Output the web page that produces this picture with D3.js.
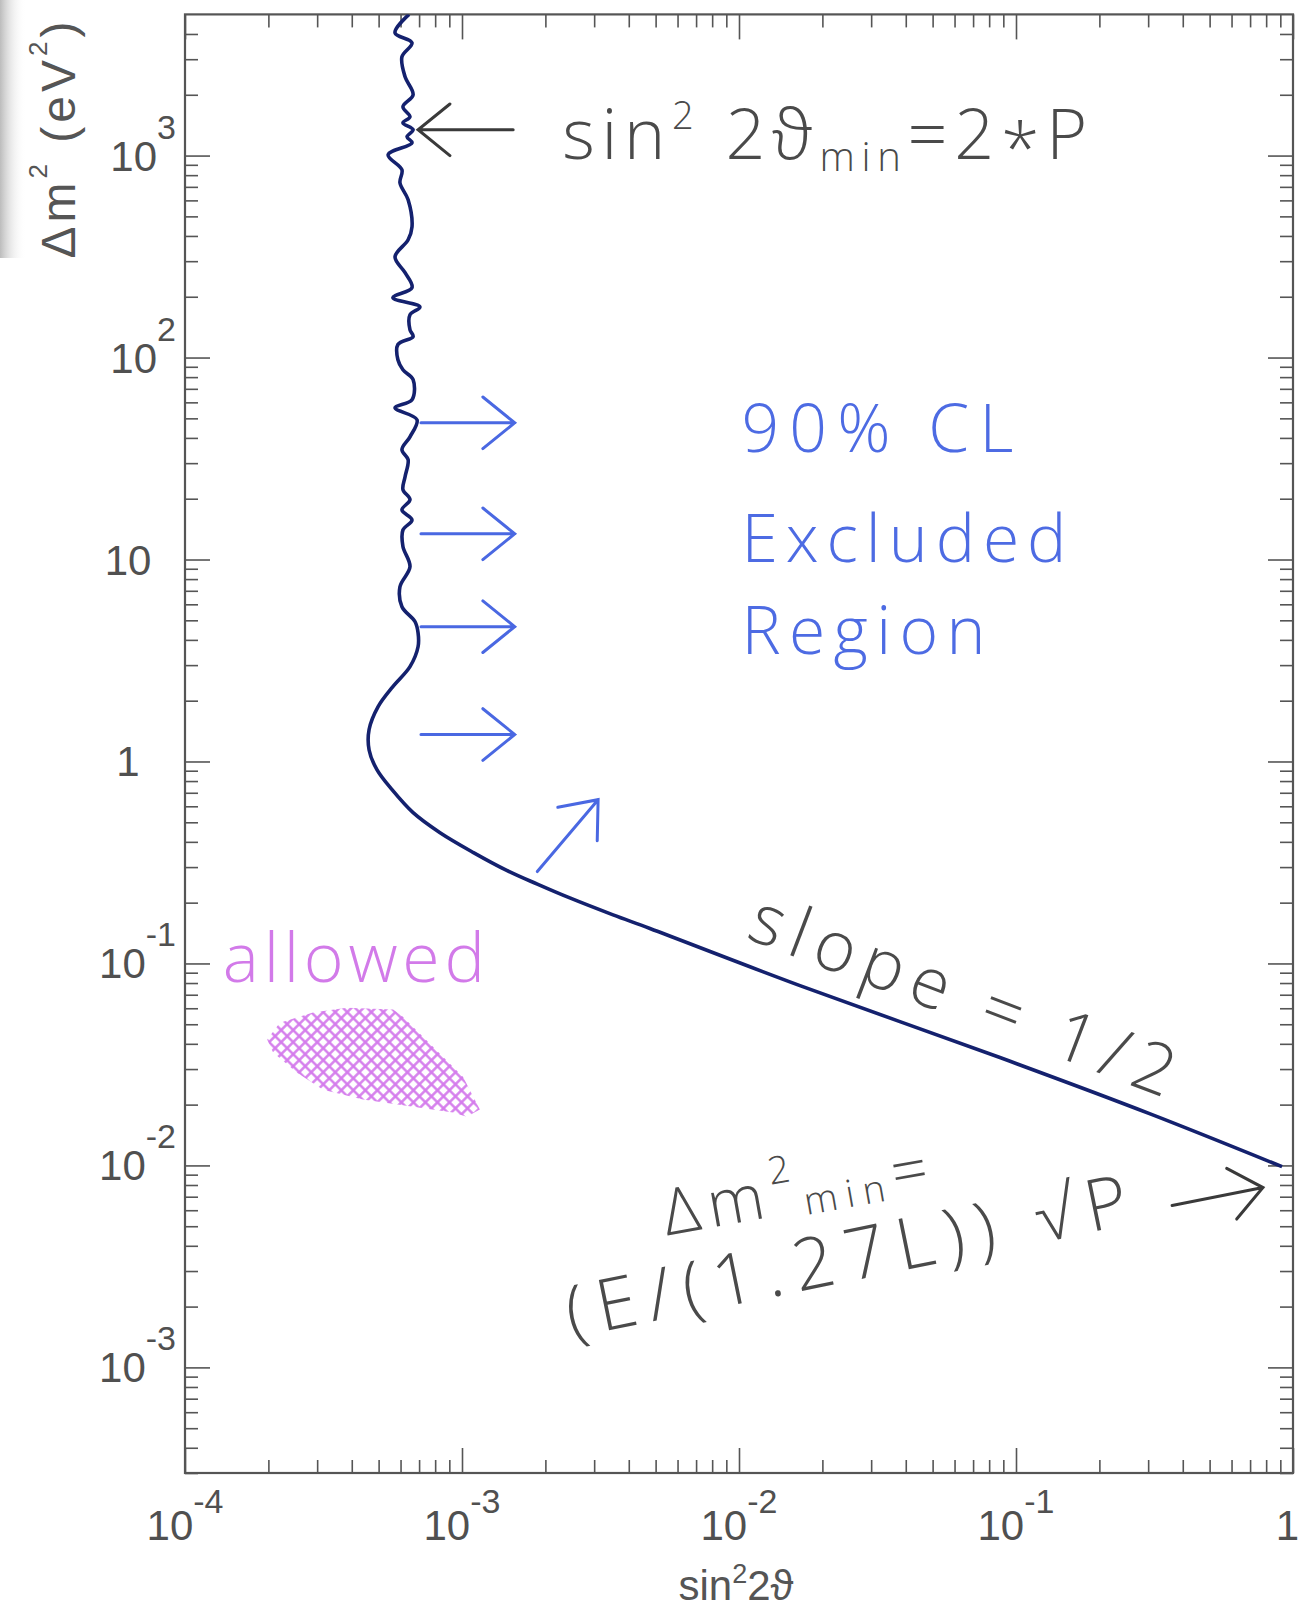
<!DOCTYPE html>
<html>
<head>
<meta charset="utf-8">
<script src="https://cdn.jsdelivr.net/npm/d3@7"></script>
<style>
  html, body { margin: 0; padding: 0; background: #fff; }
  svg { display: block; }
  .tick-label { font-family: "Liberation Sans Narrow", "Liberation Sans", Arial, sans-serif; fill: #505050; }
  .axis-title { font-family: "Liberation Sans", Arial, sans-serif; fill: #555; }
  .note { font-family: "Open Sans", "Liberation Sans", sans-serif; font-weight: 300; }
</style>
</head>
<body>
<div id="chart"></div>
<script>
// exclusion contour (sin^2 2theta, delta m^2) top to bottom
const curveSin2 = [6.44e-4, 5.73e-4, 6.60e-4, 6.07e-4, 6.23e-4, 6.66e-4, 6.12e-4, 6.49e-4, 6.12e-4, 6.66e-4,
  6.33e-4, 6.60e-4, 5.41e-4, 6.07e-4, 5.97e-4, 6.39e-4, 6.60e-4, 6.39e-4, 5.73e-4, 6.23e-4,
  6.60e-4, 5.63e-4, 7.05e-4, 6.49e-4, 6.49e-4, 6.66e-4, 5.87e-4, 5.87e-4, 6.12e-4, 6.66e-4,
  6.60e-4, 5.73e-4, 6.88e-4, 6.49e-4, 6.07e-4, 6.39e-4, 6.23e-4, 6.12e-4, 6.49e-4, 6.07e-4,
  6.60e-4, 6.12e-4, 6.12e-4, 6.49e-4, 5.97e-4, 6.07e-4, 6.77e-4, 6.94e-4, 6.94e-4, 6.49e-4,
  5.63e-4, 4.98e-4, 4.62e-4, 4.62e-4, 4.93e-4, 5.59e-4, 6.66e-4, 8.33e-4, 1.10e-3, 1.45e-3,
  1.87e-3, 2.45e-3, 3.51e-3, 4.77e-3, 1.66e-2, 8.75e-2, 0.305, 0.913];
const curveDm2 = [5000, 4054, 3617, 3084, 2455, 2000, 1744, 1556, 1453, 1342,
  1239, 1157, 1009, 850, 733, 604, 444, 383, 315, 263,
  222, 198, 178, 163, 137, 127, 116, 97.5, 87.0, 77.7,
  61.8, 56.4, 49.2, 40.5, 35.0, 31.2, 25.7, 22.2, 19.8, 17.6,
  15.7, 14.0, 11.6, 9.21, 7.33, 5.84, 4.92, 4.34, 3.70, 2.95,
  2.35, 1.87, 1.44, 1.14, 0.911, 0.725, 0.558, 0.444, 0.354, 0.289,
  0.247, 0.211, 0.174, 0.149, 0.0777, 0.0342, 0.0180, 0.00986];

// outline of the hatched "allowed" island
const allowedSin2 = [1.98e-4, 2.20e-4, 2.90e-4, 3.84e-4, 5.64e-4, 6.12e-4, 7.86e-4, 1.008e-3,
  1.16e-3, 1.04e-3, 9.28e-4, 6.66e-4, 4.39e-4, 3.15e-4, 2.54e-4, 2.08e-4];
const allowedDm2 = [0.0420, 0.0509, 0.0571, 0.0604, 0.0591, 0.0545, 0.0387, 0.0275,
  0.0189, 0.0174, 0.0183, 0.0195, 0.0212, 0.0237, 0.0288, 0.0362];

// axis ticks and labels
const xTickValues = [1e-4, 1e-3, 1e-2, 1e-1, 1];
const xTickBases = ["10", "10", "10", "10", "1"];
const xTickExps = ["-4", "-3", "-2", "-1", ""];
const yTickValues = [1e-3, 1e-2, 1e-1, 1, 10, 100, 1000];
const yTickBases = ["10", "10", "10", "1", "10", "10", "10"];
const yTickExps = ["-3", "-2", "-1", "", "", "2", "3"];

// heights of the blue "excluded" arrows
const arrowDm2 = [47.5, 13.4, 4.65, 1.36];

function drawChart(divId) {
  const W = 1299, H = 1608;
  const margin = { top: 14.4, right: 6, bottom: 135, left: 185 };
  const width = W - margin.left - margin.right;
  const height = H - margin.top - margin.bottom;

  const svg = d3.select(`#${divId}`)
    .append("svg")
      .attr("width", W)
      .attr("height", H);

  const defs = svg.append("defs");

  // scanned-page shadow on the left edge
  const shade = defs.append("linearGradient").attr("id", "shade")
    .attr("x1", 0).attr("x2", 1).attr("y1", 0).attr("y2", 0);
  shade.append("stop").attr("offset", 0).attr("stop-color", "#bcbcbc");
  shade.append("stop").attr("offset", 0.4).attr("stop-color", "#dedede").attr("stop-opacity", 0.7);
  shade.append("stop").attr("offset", 1).attr("stop-color", "#fff").attr("stop-opacity", 0);
  svg.append("rect").attr("x", 0).attr("y", 0).attr("width", 26).attr("height", 258)
    .attr("fill", "url(#shade)");

  const pat = defs.append("pattern").attr("id", "hatch")
    .attr("patternUnits", "userSpaceOnUse")
    .attr("width", 8.5).attr("height", 8.5)
    .attr("patternTransform", "rotate(45)");
  pat.append("path").attr("d", "M0,4.25H8.5M4.25,0V8.5")
    .attr("stroke", "#d47bec").attr("stroke-width", 2.4);

  defs.append("clipPath").attr("id", "plotclip")
    .append("rect").attr("width", width).attr("height", height);

  const g = svg.append("g")
    .attr("transform", `translate(${margin.left},${margin.top})`);

  const x = d3.scaleLog().domain([1e-4, 1]).range([0, width]);
  const y = d3.scaleLog().domain([3e-4, 5e3]).range([height, 0]);

  // minor ticks 2..9 in each decade
  const xMinor = [], yMinor = [];
  for (let d = -4; d < 0; d++) for (let k = 2; k <= 9; k++) xMinor.push(k * Math.pow(10, d));
  for (let d = -4; d <= 3; d++) for (let k = 2; k <= 9; k++) {
    const v = k * Math.pow(10, d);
    if (v > 3e-4 && v < 5e3) yMinor.push(v);
  }

  function clean(sel) {
    sel.select(".domain").remove();
    sel.selectAll(".tick line").attr("stroke", "#555").attr("stroke-width", 1.6);
    sel.selectAll(".tick text").remove();
  }

  const sides = [
    [d3.axisBottom, x, `translate(0,${height})`],
    [d3.axisTop, x, "translate(0,0)"],
    [d3.axisLeft, y, "translate(0,0)"],
    [d3.axisRight, y, `translate(${width},0)`]
  ];
  sides.forEach(([ax, sc, tr]) => {
    const majors = sc === x ? xTickValues : yTickValues;
    const minors = sc === x ? xMinor : yMinor;
    g.append("g").attr("transform", tr)
      .call(ax(sc).tickValues(majors).tickSize(-25).tickFormat(""))
      .call(clean);
    g.append("g").attr("transform", tr)
      .call(ax(sc).tickValues(minors).tickSize(-13).tickFormat(""))
      .call(clean);
  });

  // frame
  g.append("rect")
    .attr("width", width).attr("height", height)
    .attr("fill", "none").attr("stroke", "#555").attr("stroke-width", 2.2);

  // x tick labels (the last one sits on the page edge)
  xTickValues.forEach((v, i) => {
    const last = i === xTickValues.length - 1;
    const t = g.append("text").attr("class", "tick-label")
      .attr("x", last ? width + margin.right : x(v)).attr("y", height + 67)
      .attr("text-anchor", last ? "end" : "middle")
      .attr("font-size", 42);
    t.append("tspan").text(xTickBases[i]);
    if (xTickExps[i]) t.append("tspan").attr("dy", -27).attr("font-size", 34).text(xTickExps[i]);
  });

  // y tick labels
  yTickValues.forEach((v, i) => {
    const hasExp = yTickExps[i] !== "";
    const t = g.append("text").attr("class", "tick-label")
      .attr("x", hasExp ? -9 : -57).attr("y", y(v) + 15)
      .attr("text-anchor", hasExp ? "end" : "middle")
      .attr("font-size", 42);
    t.append("tspan").text(yTickBases[i]);
    if (hasExp) t.append("tspan").attr("dy", -32).attr("font-size", 34).text(yTickExps[i]);
  });

  // axis titles
  const xt = g.append("text").attr("class", "axis-title")
    .attr("x", 551).attr("y", height + 127)
    .attr("text-anchor", "middle").attr("font-size", 42);
  xt.append("tspan").text("sin");
  xt.append("tspan").attr("dy", -17).attr("font-size", 27).text("2");
  xt.append("tspan").attr("dy", 17).text("2ϑ");

  const yt = g.append("text").attr("class", "axis-title")
    .attr("transform", `translate(${75 - margin.left},${138 - margin.top}) rotate(-90)`)
    .attr("text-anchor", "middle").attr("font-size", 48)
    .attr("letter-spacing", 4);
  yt.append("tspan").text("Δm");
  yt.append("tspan").attr("dy", -28).attr("font-size", 26).text("2");
  yt.append("tspan").attr("dy", 28).text(" (eV");
  yt.append("tspan").attr("dy", -28).attr("font-size", 26).text("2");
  yt.append("tspan").attr("dy", 28).text(")");

  const plot = g.append("g").attr("clip-path", "url(#plotclip)");

  // allowed island
  const island = d3.zip(allowedSin2, allowedDm2);
  plot.append("path")
    .datum(island)
    .attr("d", d3.line().x(d => x(d[0])).y(d => y(d[1])).curve(d3.curveLinearClosed))
    .attr("fill", "url(#hatch)");

  // exclusion contour
  const pts = d3.zip(curveSin2, curveDm2);
  plot.append("path")
    .datum(pts)
    .attr("fill", "none")
    .attr("stroke", "#14216e")
    .attr("stroke-width", 3.6)
    .attr("stroke-linejoin", "round")
    .attr("d", d3.line().x(d => x(d[0])).y(d => y(d[1])).curve(d3.curveCatmullRom.alpha(0.5)));

  // open chevron arrows
  function arrow(x0, y0, x1, y1, color) {
    const ang = Math.atan2(y1 - y0, x1 - x0);
    const L = 41, a = 39 * Math.PI / 180;
    const p1 = [x1 - L * Math.cos(ang - a), y1 - L * Math.sin(ang - a)];
    const p2 = [x1 - L * Math.cos(ang + a), y1 - L * Math.sin(ang + a)];
    g.append("path")
      .attr("d", `M${x0},${y0}L${x1},${y1}M${p1}L${x1},${y1}L${p2}`)
      .attr("fill", "none")
      .attr("stroke", color)
      .attr("stroke-width", 3)
      .attr("stroke-linecap", "round")
      .attr("stroke-linejoin", "miter");
  }

  const blue = "#4a68e2", grey = "#3a3a3a";
  arrowDm2.forEach(v => arrow(x(7.11e-4), y(v), x(1.55e-3), y(v), blue));
  arrow(x(1.87e-3), y(0.285), x(3.10e-3), y(0.647), blue);
  arrow(x(1.53e-3), y(1342), x(6.94e-4), y(1342), grey);
  arrow(x(0.366), y(6.33e-3), x(0.779), y(7.77e-3), grey);

  // sin^2 2theta_min = 2*P
  const s1 = g.append("text").attr("class", "note")
    .attr("x", x(2.30e-3)).attr("y", y(964))
    .attr("font-size", 70).attr("fill", "#4a4a4a")
    .attr("textLength", 525).attr("lengthAdjust", "spacing");
  s1.append("tspan").text("sin");
  s1.append("tspan").attr("dy", -30).attr("font-size", 38).text("2");
  s1.append("tspan").attr("dy", 30).text(" 2ϑ");
  s1.append("tspan").attr("dy", 12).attr("font-size", 40).text("min");
  s1.append("tspan").attr("dy", -12).text("=2");
  s1.append("tspan").attr("dy", 14).text("*");
  s1.append("tspan").attr("dy", -14).text("P");

  // excluded region label
  [["90% CL", 34.2, 272], ["Excluded", 9.75, 325], ["Region", 3.4, 244]].forEach(([txt, v, len]) => {
    g.append("text").attr("class", "note")
      .attr("x", x(1.02e-2)).attr("y", y(v))
      .attr("font-size", 66).attr("fill", "#4d6be3")
      .attr("textLength", len).attr("lengthAdjust", "spacing")
      .text(txt);
  });

  g.append("text").attr("class", "note")
    .attr("x", x(1.37e-4)).attr("y", y(0.0813))
    .attr("font-size", 68).attr("fill", "#d27ae9")
    .attr("textLength", 262).attr("lengthAdjust", "spacing")
    .text("allowed");

  g.append("text").attr("class", "note")
    .attr("transform", `translate(${x(1.05e-2)},${y(0.134)}) rotate(20.9)`)
    .attr("font-size", 70).attr("fill", "#4a4a4a")
    .attr("textLength", 449).attr("lengthAdjust", "spacing")
    .text("slope = 1/2");

  const d1 = g.append("text").attr("class", "note")
    .attr("transform", `translate(${x(5.5e-3)},${y(4.5e-3)}) rotate(-10)`)
    .attr("font-size", 64).attr("fill", "#4a4a4a")
    .attr("textLength", 268).attr("lengthAdjust", "spacing");
  d1.append("tspan").text("Δm");
  d1.append("tspan").attr("dy", -32).attr("font-size", 38).text("2");
  d1.append("tspan").attr("dy", 36).attr("font-size", 38).text("min");
  d1.append("tspan").attr("dy", -4).text("=");

  g.append("text").attr("class", "note")
    .attr("transform", `translate(${x(2.48e-3)},${y(1.40e-3)}) rotate(-11.5)`)
    .attr("font-size", 72).attr("fill", "#4a4a4a")
    .attr("textLength", 572).attr("lengthAdjust", "spacing")
    .text("(E/(1.27L)) √P");
}

drawChart("chart");
</script>
</body>
</html>
